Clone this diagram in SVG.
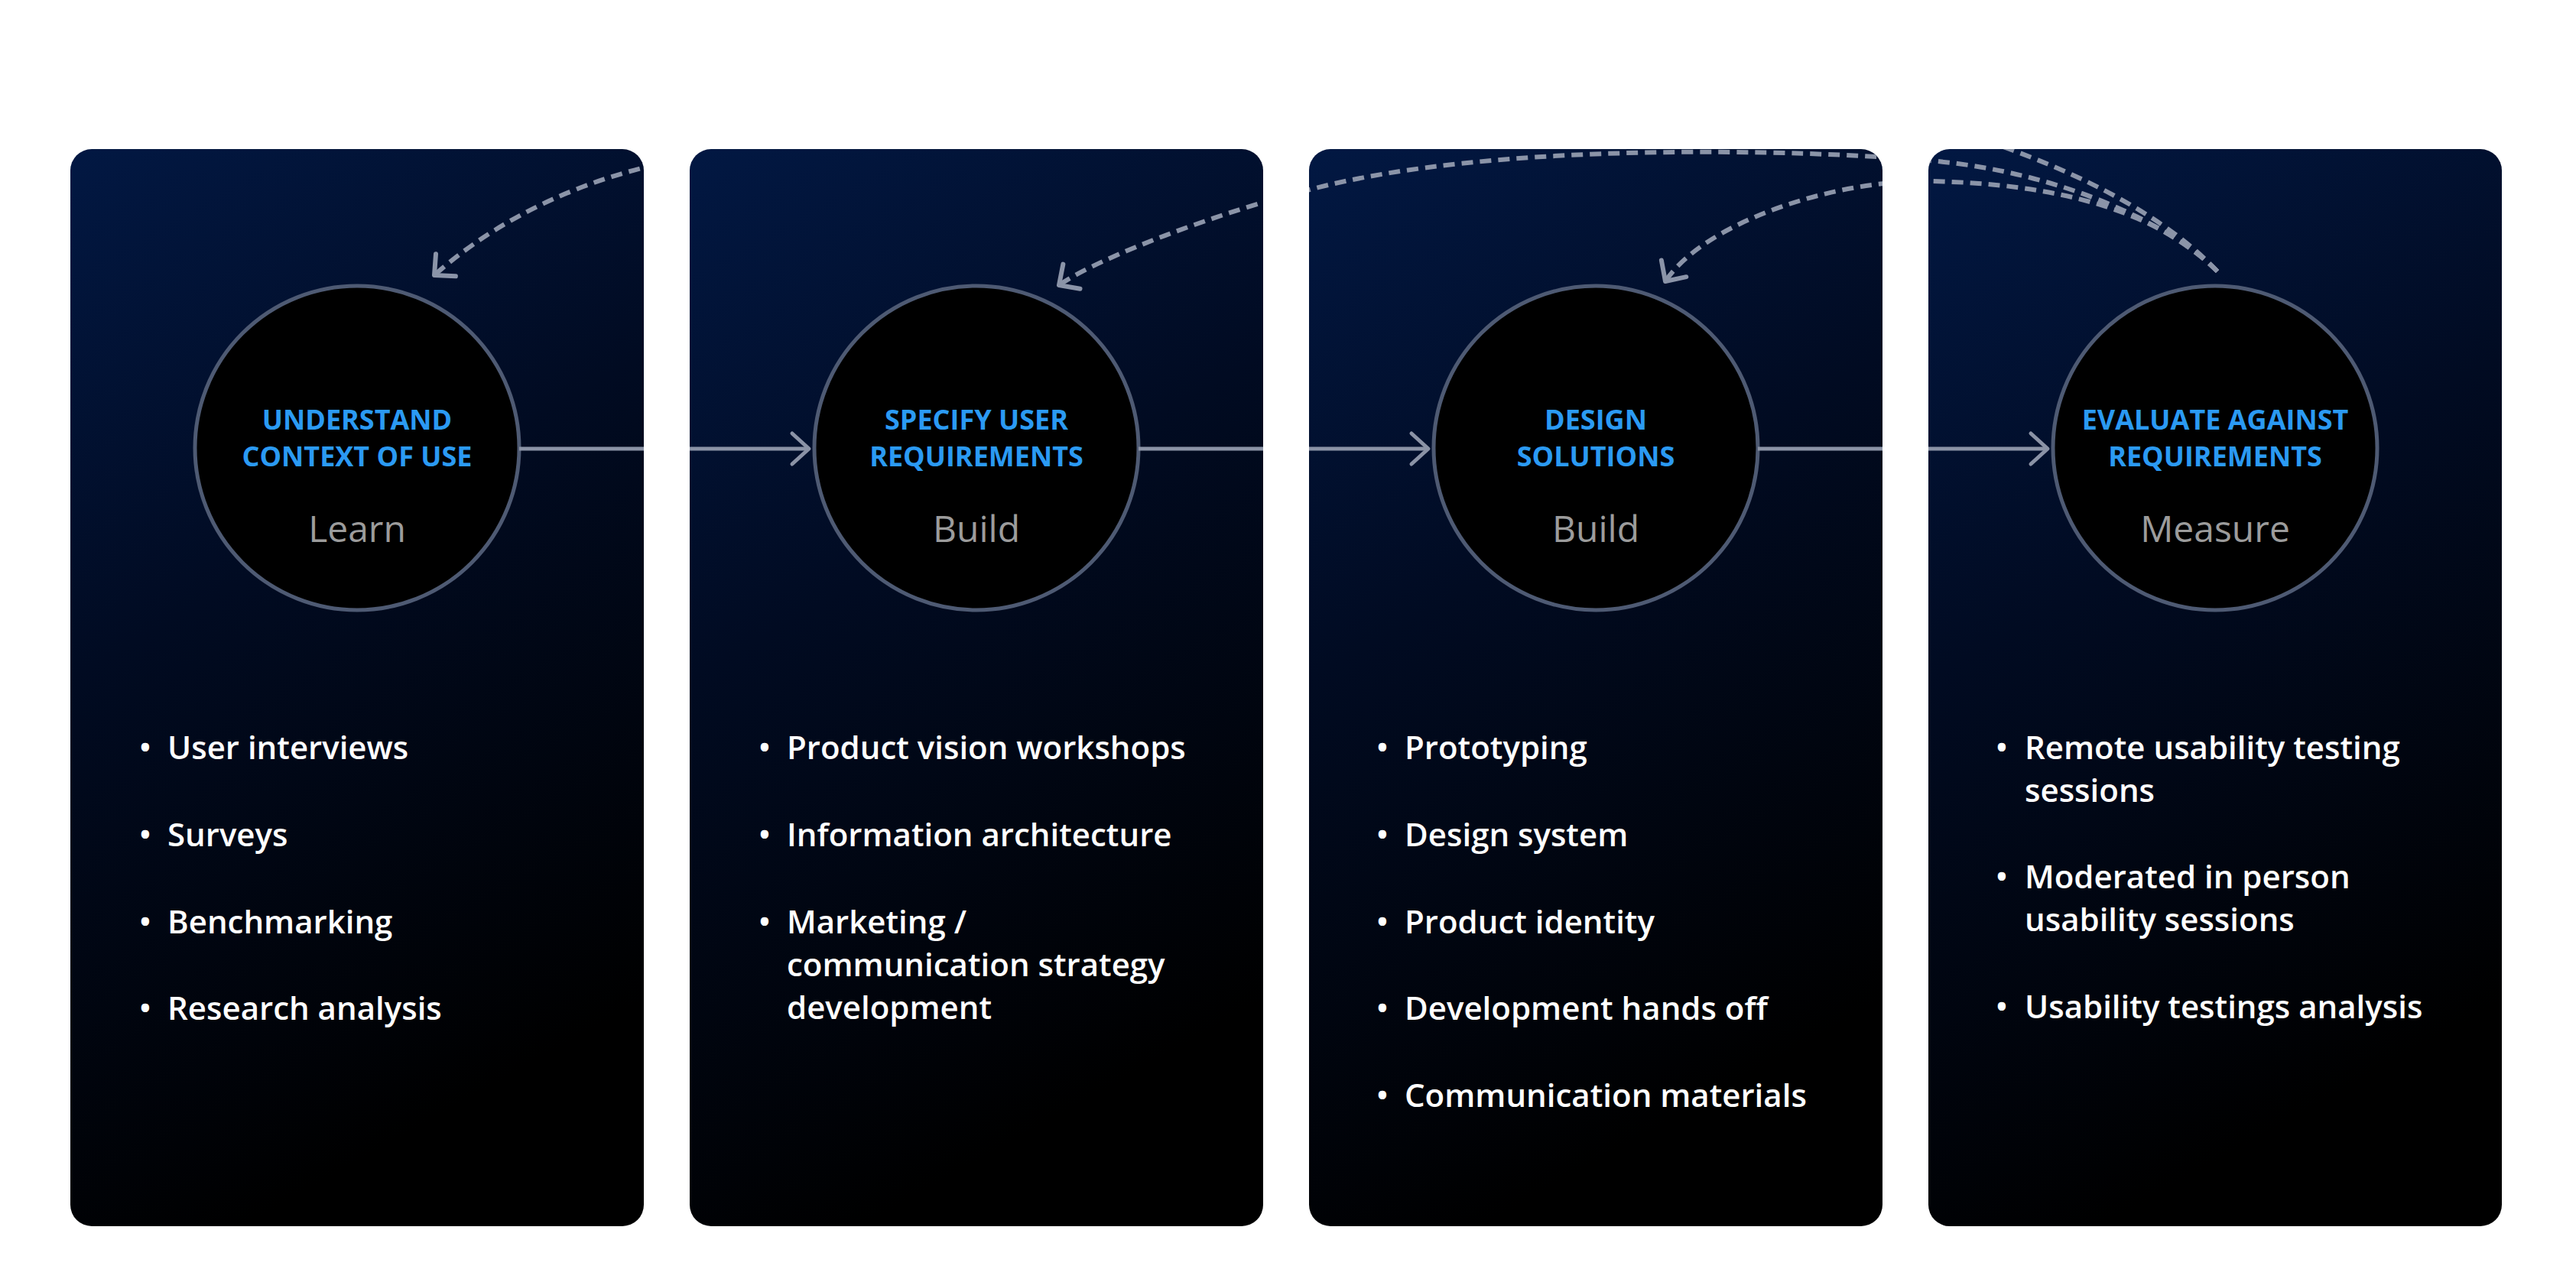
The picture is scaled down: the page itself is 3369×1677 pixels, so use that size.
<svg xmlns="http://www.w3.org/2000/svg" width="3369" height="1677" viewBox="0 0 3369 1677">
  <defs>
    <linearGradient id="panelGrad" x1="0" y1="0" x2="0.3" y2="1">
      <stop offset="0" stop-color="#021843"/>
      <stop offset="0.45" stop-color="#010b22"/>
      <stop offset="1" stop-color="#000000"/>
    </linearGradient>
    <clipPath id="panelsClip">
      <rect x="92" y="195" width="750" height="1409" rx="28"/>
      <rect x="902" y="195" width="750" height="1409" rx="28"/>
      <rect x="1712" y="195" width="750" height="1409" rx="28"/>
      <rect x="2522" y="195" width="750" height="1409" rx="28"/>
    </clipPath>
    <marker id="chev" markerUnits="userSpaceOnUse" viewBox="-30 -30 60 60" markerWidth="60" markerHeight="60" refX="0" refY="0" orient="auto" overflow="visible">
      <path d="M-22,-20 L0,0 L-22,20" fill="none" stroke="#8b93a6" stroke-width="5" stroke-linecap="round" stroke-linejoin="round"/>
    </marker>
    <marker id="chevDash" markerUnits="userSpaceOnUse" viewBox="-30 -30 60 60" markerWidth="60" markerHeight="60" refX="0" refY="0" orient="auto" overflow="visible">
      <path d="M-20,-19.5 L0,0 L-20,19.5" fill="none" stroke="#8b94a8" stroke-width="6" stroke-linecap="round" stroke-linejoin="round"/>
    </marker>
  </defs>
  <style>
    .panel { fill: url(#panelGrad); }
    .ring { fill: #000000; stroke: #4e5a73; stroke-width: 5; }
    .title { font-family: "Open Sans", "Noto Sans", sans-serif; font-weight: 700; font-size: 36px; fill: #2b9af3; text-anchor: middle; }
    .sub { font-family: "Open Sans", "Noto Sans", sans-serif; font-weight: 500; font-size: 48px; fill: #9c9c9c; text-anchor: middle; }
    .item { font-family: "Open Sans", "Noto Sans", sans-serif; font-weight: 600; font-size: 42px; fill: #ffffff; }
    .dot { font-family: "Open Sans", "Noto Sans", sans-serif; font-weight: 600; font-size: 42px; fill: #ffffff; text-anchor: middle; }
    .flow { fill: none; stroke: #8b93a6; stroke-width: 5; marker-end: url(#chev); }
    .back { fill: none; stroke: #8b94a8; stroke-width: 6; stroke-dasharray: 15 9; marker-end: url(#chevDash); }
  </style>
  <rect x="0" y="0" width="3369" height="1677" fill="#ffffff"/>

  <g id="node-understand">
    <rect class="panel" x="92" y="195" width="750" height="1409" rx="28"/>
    <circle class="ring" cx="467" cy="586" r="212"/>
    <text class="title" x="467" y="562">UNDERSTAND</text>
    <text class="title" x="467" y="610">CONTEXT OF USE</text>
    <text class="sub" x="467" y="709">Learn</text>
    <text class="dot" x="190" y="993">•</text>
    <text class="item" x="219" y="993">User interviews</text>
    <text class="dot" x="190" y="1107">•</text>
    <text class="item" x="219" y="1107">Surveys</text>
    <text class="dot" x="190" y="1221">•</text>
    <text class="item" x="219" y="1221">Benchmarking</text>
    <text class="dot" x="190" y="1334">•</text>
    <text class="item" x="219" y="1334">Research analysis</text>
  </g>

  <g id="node-specify">
    <rect class="panel" x="902" y="195" width="750" height="1409" rx="28"/>
    <circle class="ring" cx="1277" cy="586" r="212"/>
    <text class="title" x="1277" y="562">SPECIFY USER</text>
    <text class="title" x="1277" y="610">REQUIREMENTS</text>
    <text class="sub" x="1277" y="709">Build</text>
    <text class="dot" x="1000" y="993">•</text>
    <text class="item" x="1029" y="993">Product vision workshops</text>
    <text class="dot" x="1000" y="1107">•</text>
    <text class="item" x="1029" y="1107">Information architecture</text>
    <text class="dot" x="1000" y="1221">•</text>
    <text class="item" x="1029" y="1221">Marketing /<tspan x="1029" y="1277">communication strategy</tspan><tspan x="1029" y="1333">development</tspan></text>
  </g>

  <g id="node-design">
    <rect class="panel" x="1712" y="195" width="750" height="1409" rx="28"/>
    <circle class="ring" cx="2087" cy="586" r="212"/>
    <text class="title" x="2087" y="562">DESIGN</text>
    <text class="title" x="2087" y="610">SOLUTIONS</text>
    <text class="sub" x="2087" y="709">Build</text>
    <text class="dot" x="1808" y="993">•</text>
    <text class="item" x="1837" y="993">Prototyping</text>
    <text class="dot" x="1808" y="1107">•</text>
    <text class="item" x="1837" y="1107">Design system</text>
    <text class="dot" x="1808" y="1221">•</text>
    <text class="item" x="1837" y="1221">Product identity</text>
    <text class="dot" x="1808" y="1334">•</text>
    <text class="item" x="1837" y="1334">Development hands off</text>
    <text class="dot" x="1808" y="1448">•</text>
    <text class="item" x="1837" y="1448">Communication materials</text>
  </g>

  <g id="node-evaluate">
    <rect class="panel" x="2522" y="195" width="750" height="1409" rx="28"/>
    <circle class="ring" cx="2897" cy="586" r="212"/>
    <text class="title" x="2897" y="562">EVALUATE AGAINST</text>
    <text class="title" x="2897" y="610">REQUIREMENTS</text>
    <text class="sub" x="2897" y="709">Measure</text>
    <text class="dot" x="2618" y="993">•</text>
    <text class="item" x="2648" y="993">Remote usability testing<tspan x="2648" y="1049">sessions</tspan></text>
    <text class="dot" x="2618" y="1162">•</text>
    <text class="item" x="2648" y="1162">Moderated in person<tspan x="2648" y="1218">usability sessions</tspan></text>
    <text class="dot" x="2618" y="1332">•</text>
    <text class="item" x="2648" y="1332">Usability testings analysis</text>
  </g>

  <g id="connectors" clip-path="url(#panelsClip)">
    <path id="c-1-2" class="flow" d="M679,587 L1058,587"/>
    <path id="c-2-3" class="flow" d="M1489,587 L1868,587"/>
    <path id="c-3-4" class="flow" d="M2299,587 L2678,587"/>
    <path id="back-4-1" class="back" d="M2900,355 C2850,302 2760,240 2600,185 C2450,130 2300,40 2000,40 C1500,40 1000,100 900,200 L843,219 C720,250 630,305 568,360"/>
    <path id="back-4-2" class="back" d="M2900,355 C2840,295 2700,225 2523,210 C2350,195 1950,185 1713,248 C1600,276 1440,335 1385,373"/>
    <path id="back-4-3" class="back" d="M2900,355 C2820,275 2690,240 2523,237 C2400,235 2230,290 2178,368"/>
  </g>
</svg>
